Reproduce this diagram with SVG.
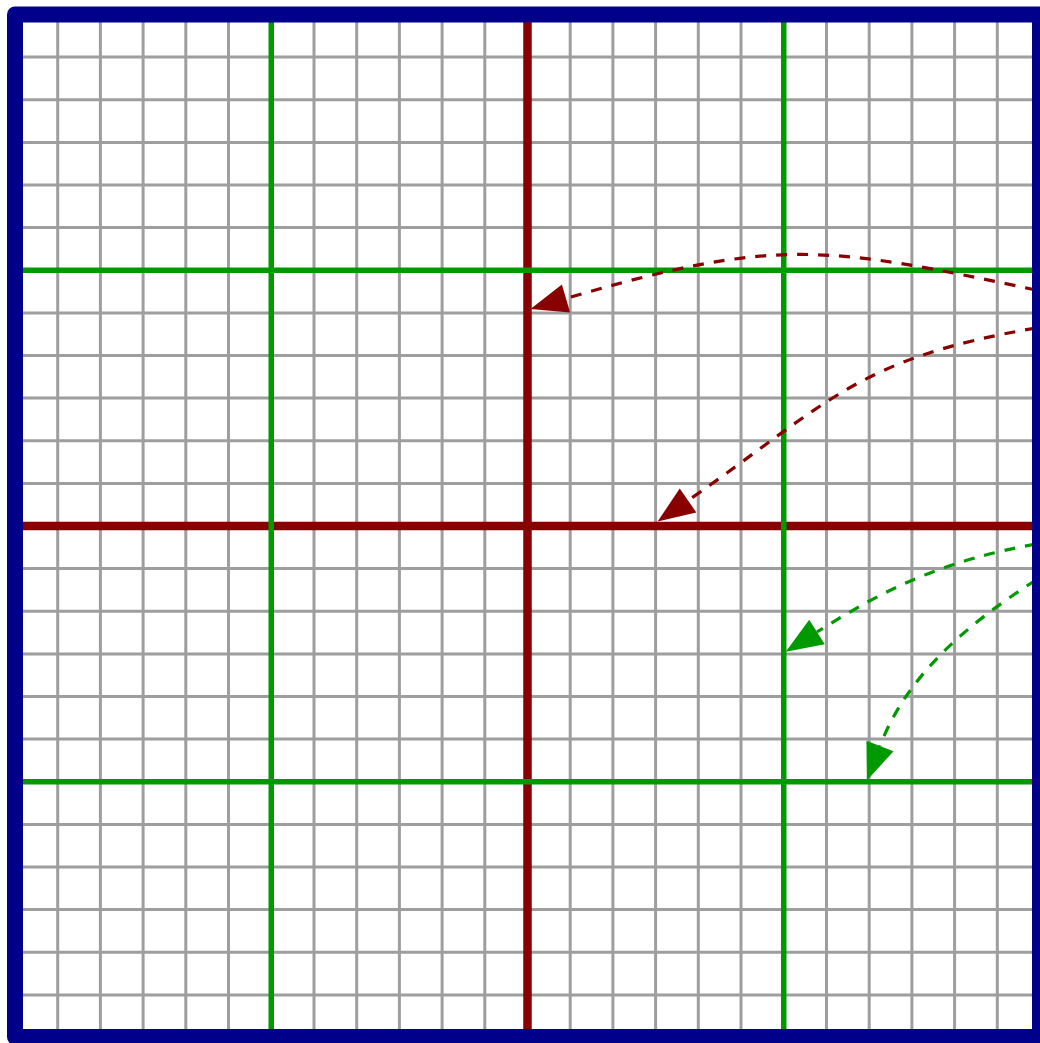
<svg xmlns="http://www.w3.org/2000/svg" width="1040" height="1043" viewBox="0 0 1040 1043">
  <style>
    .grid { stroke: #9e9e9e; stroke-width: 3; fill: none; }
    .red { stroke: #880000; stroke-width: 8.5; fill: none; }
    .green { stroke: #009900; stroke-width: 5.5; fill: none; }
    .dred { stroke: #880000; stroke-width: 3.2; fill: none; stroke-dasharray: 11 10; }
    .dgreen { stroke: #009900; stroke-width: 3.2; fill: none; stroke-dasharray: 11 10; }
    .border { stroke: #00008b; stroke-width: 16; fill: none; stroke-linejoin: round; }
  </style>
  <defs>
    <marker id="headRed" markerUnits="userSpaceOnUse" markerWidth="40" markerHeight="32" viewBox="0 -16 40 32" refX="0" refY="0" orient="auto" overflow="visible">
      <path d="M0,-14.5 L37,0 L0,14.5 Z" fill="#880000"/>
    </marker>
    <marker id="headGreen" markerUnits="userSpaceOnUse" markerWidth="40" markerHeight="32" viewBox="0 -16 40 32" refX="0" refY="0" orient="auto" overflow="visible">
      <path d="M0,-14.5 L37,0 L0,14.5 Z" fill="#009900"/>
    </marker>
  </defs>
  <rect x="0" y="0" width="1040" height="1043" fill="#ffffff"/>
  <g id="grid">
    <path class="grid" d="M57.7,14.5V1037 M100.4,14.5V1037 M143.1,14.5V1037 M185.8,14.5V1037 M228.5,14.5V1037 M271.25,14.5V1037 M314,14.5V1037 M356.7,14.5V1037 M399.4,14.5V1037 M442.1,14.5V1037 M484.8,14.5V1037 M527.5,14.5V1037 M570.2,14.5V1037 M612.9,14.5V1037 M655.6,14.5V1037 M698.3,14.5V1037 M741,14.5V1037 M783.75,14.5V1037 M826.5,14.5V1037 M869.2,14.5V1037 M911.9,14.5V1037 M954.6,14.5V1037 M997.3,14.5V1037"/>
    <path class="grid" d="M15,57.1H1040 M15,99.75H1040 M15,142.4H1040 M15,185H1040 M15,227.6H1040 M15,270.25H1040 M15,312.9H1040 M15,355.5H1040 M15,398.1H1040 M15,440.75H1040 M15,483.4H1040 M15,526H1040 M15,568.6H1040 M15,611.25H1040 M15,653.9H1040 M15,696.5H1040 M15,739.1H1040 M15,781.75H1040 M15,824.4H1040 M15,867H1040 M15,909.6H1040 M15,952.25H1040 M15,994.9H1040"/>
  </g>
  <g id="axes-red">
    <path class="red" d="M527.5,14.5V1037 M15,526H1040"/>
  </g>
  <g id="axes-green">
    <path class="green" d="M271.25,14.5V1037 M783.75,14.5V1037 M15,270.25H1040 M15,781.75H1040"/>
  </g>
  <g id="connectors">
    <path class="dred" d="M1036,290 C827,246.1 777,236.3 566,298.5" marker-end="url(#headRed)"/>
    <path class="dred" d="M1036,328 C856,358.6 828,403.4 688,500.5" marker-end="url(#headRed)"/>
    <path class="dgreen" d="M1036,544 C946,560.2 888,586.9 817,632" marker-end="url(#headGreen)"/>
    <path class="dgreen" d="M1036,580 C966,624.8 906.6,676 880,746" marker-end="url(#headGreen)"/>
  </g>
  <g id="border">
    <rect class="border" x="15" y="14.5" width="1025" height="1022.5"/>
  </g>
</svg>
